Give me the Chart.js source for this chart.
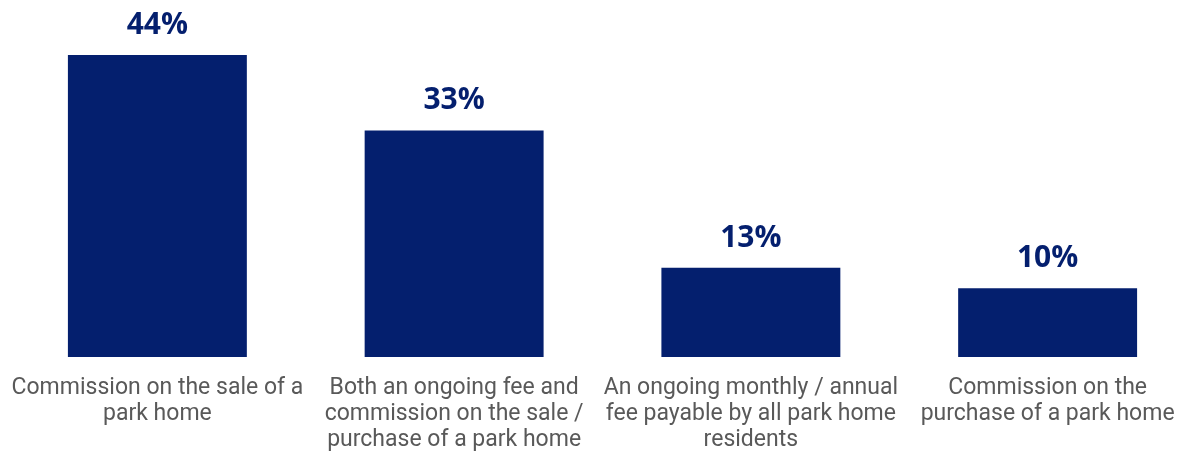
<!DOCTYPE html>
<html>
<head>
<meta charset="utf-8">
<script src="https://cdn.jsdelivr.net/npm/chart.js@4"></script>
<style>
  html, body { margin: 0; padding: 0; background: #fff; overflow: hidden; }
  #wrap { position: relative; width: 1200px; height: 456px; }
</style>
</head>
<body>
<div id="wrap"><canvas id="feeChart"></canvas></div>
<script>
// categories (wrapped onto lines as shown under each bar)
var categories = [
    ['Commission on the sale of a', 'park home'],
    ['Both an ongoing fee and', 'commission on the sale /', 'purchase of a park home'],
    ['An ongoing monthly / annual', 'fee payable by all park home', 'residents'],
    ['Commission on the', 'purchase of a park home']
];
var shares = [44, 33, 13, 10];

var navy = '#041f6e';

// prints the percentage above each bar
var valueLabels = {
    id: 'valueLabels',
    afterDatasetsDraw: function(chart) {
        var ctx = chart.ctx;
        var meta = chart.getDatasetMeta(0);
        ctx.save();
        ctx.font = 'bold 30px "Open Sans", sans-serif';
        ctx.fillStyle = navy;
        ctx.textAlign = 'center';
        ctx.textBaseline = 'alphabetic';
        meta.data.forEach(function(bar, i) {
            ctx.fillText(shares[i] + '%', bar.x, bar.y - 21);
        });
        ctx.restore();
    }
};

var ctx = document.getElementById('feeChart').getContext('2d');
new Chart(ctx, {
    type: 'bar',
    data: {
        labels: categories,
        datasets: [{
            data: shares,
            backgroundColor: navy,
            borderWidth: 0,
            barPercentage: 0.603,
            categoryPercentage: 1
        }]
    },
    options: {
        responsive: true,
        maintainAspectRatio: false,
        animation: false,
        layout: { padding: { left: 9, right: 4, top: 0, bottom: 0 } },
        plugins: {
            legend: { display: false },
            tooltip: { enabled: false }
        },
        scales: {
            x: {
                grid: { display: false, drawTicks: false },
                border: { display: false },
                ticks: {
                    color: '#595959',
                    padding: 18,
                    maxRotation: 0,
                    autoSkip: false,
                    font: { family: 'Roboto', size: 23, lineHeight: 1.13 }
                },
                // fixed axis band, and no extra side room for the long labels
                afterFit: function(scale) {
                    scale.height = 99;
                    scale.paddingLeft = 0;
                    scale.paddingRight = 0;
                }
            },
            y: {
                display: false,
                min: 0,
                max: 52
            }
        }
    },
    plugins: [valueLabels]
});
</script>
</body>
</html>
